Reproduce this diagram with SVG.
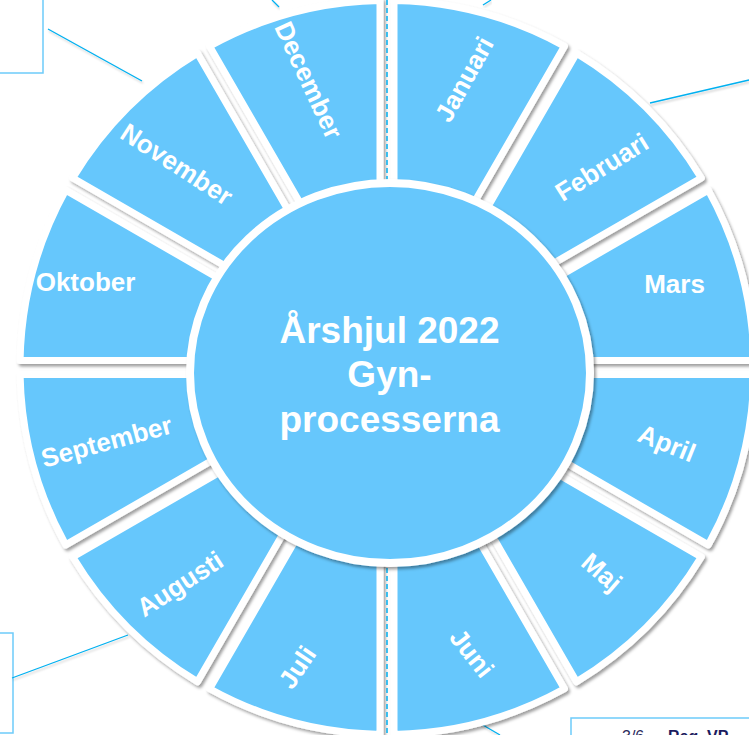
<svg xmlns="http://www.w3.org/2000/svg" width="749" height="735" viewBox="0 0 749 735">
<defs>
<filter id="sh" x="-10%" y="-10%" width="125%" height="125%">
<feDropShadow dx="2" dy="2.5" stdDeviation="1.6" flood-color="#000" flood-opacity="0.38"/>
</filter>
<filter id="lsh" x="-5%" y="-50%" width="110%" height="200%">
<feDropShadow dx="1" dy="2" stdDeviation="1" flood-color="#000" flood-opacity="0.2"/>
</filter>
<style>
.seg{fill:#66C7FC;stroke:#fff;stroke-width:7;stroke-linejoin:round;filter:url(#sh)}
.hub{fill:#66C7FC;stroke:#fff;stroke-width:8;filter:url(#sh)}
.lbl{font-family:"Liberation Sans",Arial,sans-serif;font-weight:bold;font-size:26px;fill:#fff;text-anchor:middle}
.ctr{font-family:"Liberation Sans",Arial,sans-serif;font-weight:bold;font-size:37px;fill:#fff;text-anchor:middle}
.call{stroke:#00B0F0;stroke-width:1.3;fill:none;filter:url(#lsh)}
.box{fill:#fff;stroke:#6DCBFA;stroke-width:1.5}
.dash{stroke:#00B0F0;stroke-width:1.5;stroke-dasharray:5 3;fill:none}
.foot{font-family:"Liberation Sans",Arial,sans-serif;font-size:16px}
</style>
</defs>
<rect width="749" height="735" fill="#fff"/>

<g id="callouts">
<rect class="box" x="-2" y="-2" width="45" height="75"/>
<rect class="box" x="-2" y="633" width="15" height="100"/>
<line class="call" x1="48" y1="29" x2="142" y2="81"/>
<line class="call" x1="272" y1="0" x2="279" y2="7"/>
<line class="call" x1="483" y1="5" x2="491" y2="0"/>
<line class="call" x1="650" y1="103" x2="749" y2="80"/>
<line class="call" x1="736" y1="256" x2="749" y2="256"/>
<line class="call" x1="0" y1="281.5" x2="16" y2="281.5"/>
<line class="call" x1="0" y1="493.5" x2="38" y2="493.5"/>
<line class="call" x1="12" y1="678" x2="128" y2="635"/>
<line class="call" x1="652" y1="622" x2="749" y2="622"/>
<line class="call" x1="476" y1="721" x2="500" y2="735"/>
</g>

<g id="seg-januari"><path class="seg" d="M394,341.37 L394,0.57 A367,367 0 0 1 564.4,46.23 Z"/><text class="lbl" x="464" y="88.3" transform="rotate(-61 464 79)">Januari</text></g>
<g id="seg-februari"><path class="seg" d="M406.13,348.37 L576.53,53.23 A367,367 0 0 1 701.27,177.97 Z"/><text class="lbl" x="601.6" y="176.1" transform="rotate(-32 601.6 166.8)">Februari</text></g>
<g id="seg-mars"><path class="seg" d="M413.13,360.5 L708.27,190.1 A367,367 0 0 1 753.93,360.5 Z"/><text class="lbl" x="674.5" y="292.8">Mars</text></g>
<g id="seg-april"><path class="seg" d="M413.13,374.5 L753.93,374.5 A367,367 0 0 1 708.27,544.9 Z"/><text class="lbl" x="667" y="452.3" transform="rotate(22 667 443)">April</text></g>
<g id="seg-maj"><path class="seg" d="M406.13,386.63 L701.27,557.03 A367,367 0 0 1 576.53,681.77 Z"/><text class="lbl" x="602" y="581.3" transform="rotate(41 602 572)">Maj</text></g>
<g id="seg-juni"><path class="seg" d="M394,393.63 L564.4,688.77 A367,367 0 0 1 394,734.43 Z"/><text class="lbl" x="472" y="662.3" transform="rotate(52 472 653)">Juni</text></g>
<g id="seg-juli"><path class="seg" d="M380,393.63 L380,734.43 A367,367 0 0 1 209.6,688.77 Z"/><text class="lbl" x="297" y="676.3" transform="rotate(-56 297 667)">Juli</text></g>
<g id="seg-augusti"><path class="seg" d="M367.87,386.63 L197.47,681.77 A367,367 0 0 1 72.73,557.03 Z"/><text class="lbl" x="179.7" y="593" transform="rotate(-33 179.7 583.7)">Augusti</text></g>
<g id="seg-september"><path class="seg" d="M360.87,374.5 L65.73,544.9 A367,367 0 0 1 20.07,374.5 Z"/><text class="lbl" x="106.5" y="450.6" transform="rotate(-15 106.5 441.3)">September</text></g>
<g id="seg-oktober"><path class="seg" d="M360.87,360.5 L20.07,360.5 A367,367 0 0 1 65.73,190.1 Z"/><text class="lbl" x="85.5" y="291.3">Oktober</text></g>
<g id="seg-november"><path class="seg" d="M367.87,348.37 L72.73,177.97 A367,367 0 0 1 197.47,53.23 Z"/><text class="lbl" x="177" y="173.3" transform="rotate(33 177 164)">November</text></g>
<g id="seg-december"><path class="seg" d="M380,341.37 L209.6,46.23 A367,367 0 0 1 380,0.57 Z"/><text class="lbl" x="309" y="89.3" transform="rotate(65 309 80)">December</text></g>

<g id="divider"><line class="dash" x1="387" y1="0" x2="387" y2="735"/></g>

<g id="hub">
<ellipse class="hub" cx="390" cy="373" rx="200" ry="190"/>
<text class="ctr" x="389.5" y="343">Årshjul 2022</text>
<text class="ctr" x="389.5" y="387">Gyn-</text>
<text class="ctr" x="389.5" y="432">processerna</text>
</g>

<g id="footer-box">
<rect class="box" x="571" y="718" width="190" height="40"/>
<text class="foot" x="622" y="742" fill="#2a2a5c">3/6 -</text>
<text class="foot" x="668" y="742" font-weight="bold" fill="#1b1b5e">Reg. VP</text>
</g>
</svg>
